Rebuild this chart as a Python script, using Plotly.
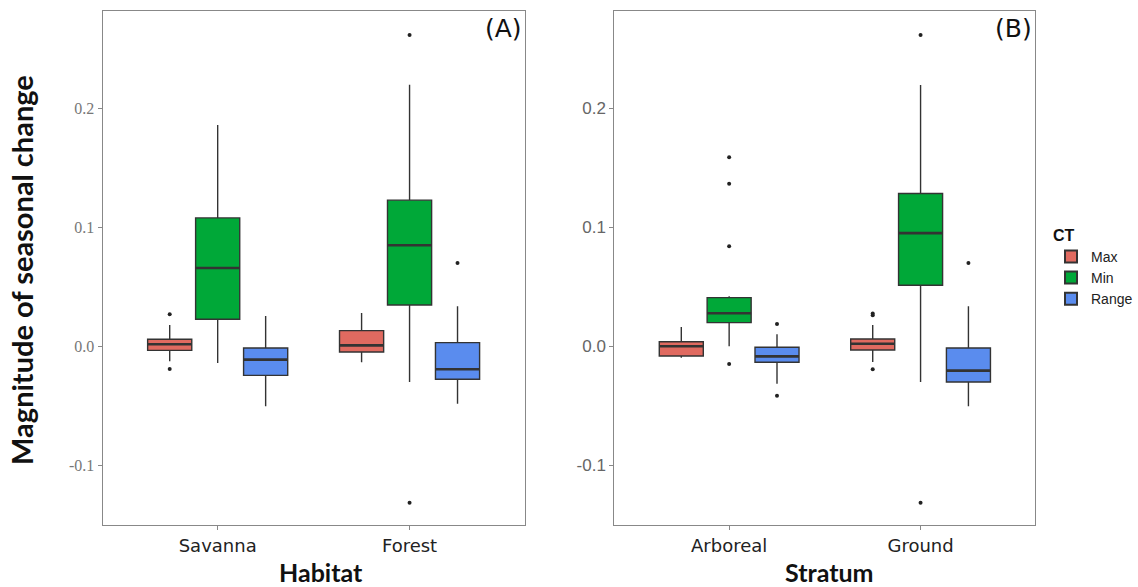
import plotly.graph_objects as go

# ---------------- data ----------------
groups = ["Max", "Min", "Range"]
habitat_cats = ["Savanna", "Forest"]
stratum_cats = ["Arboreal", "Ground"]

# Panel A (Habitat) stats per group: [Savanna, Forest]
A_q1 = {"Max": [-0.0034, -0.0048], "Min": [0.0227, 0.0347], "Range": [-0.0244, -0.0277]}
A_med = {"Max": [0.0017, 0.0008], "Min": [0.0658, 0.0849], "Range": [-0.0112, -0.0193]}
A_q3 = {"Max": [0.0059, 0.0132], "Min": [0.1078, 0.1227], "Range": [-0.0014, 0.0031]}
A_lo = {"Max": [-0.0126, -0.0134], "Min": [-0.014, -0.030], "Range": [-0.0504, -0.0482]}
A_hi = {"Max": [0.018, 0.028], "Min": [0.1857, 0.2196], "Range": [0.0255, 0.0336]}
A_out = {"Max": [[0.027, -0.019], []], "Min": [[], [0.2613, -0.1314]], "Range": [[], [0.070]]}

# Panel B (Stratum) stats per group: [Arboreal, Ground]
B_q1 = {"Max": [-0.0081, -0.0031], "Min": [0.0199, 0.0513], "Range": [-0.0134, -0.030]}
B_med = {"Max": [0.0, 0.0022], "Min": [0.0277, 0.095], "Range": [-0.0084, -0.0204]}
B_q3 = {"Max": [0.0039, 0.0062], "Min": [0.0409, 0.1283], "Range": [-0.0008, -0.0014]}
B_lo = {"Max": [-0.0095, -0.0132], "Min": [0.0, -0.030], "Range": [-0.0314, -0.0504]}
B_hi = {"Max": [0.0162, 0.0179], "Min": [0.042, 0.2193], "Range": [0.0101, 0.0336]}
B_out = {"Max": [[], [0.0275, 0.026, -0.0193]], "Min": [[0.1588, 0.1364, 0.084, -0.0149], [0.2613, -0.1314]],
         "Range": [[0.0188, -0.0415], [0.070]]}

y_ticks = [-0.1, 0.0, 0.1, 0.2]
y_tick_text = ["-0.1", "0.0", "0.1", "0.2"]

# ---------------- style ----------------
colors = {"Max": "#E06A60", "Min": "#00A838", "Range": "#5A8CEE"}
offsets = {"Max": -0.25, "Min": 0.0, "Range": 0.25}
box_w = 0.23
edge = "#333333"

W, H = 1138, 587
A_dom = [103 / W, 527 / W]
B_dom = [617 / W, 1040 / W]
Y_dom = [1 - 525 / H, 1 - 11 / H]

fig = go.Figure()


def add_panel(q1, med, q3, lo, hi, out, xa, ya, showleg):
    for g in groups:
        xs = [i + 1 + offsets[g] for i in range(2)]
        fig.add_trace(go.Box(
            x=xs, q1=q1[g], median=med[g], q3=q3[g],
            lowerfence=lo[g], upperfence=hi[g],
            width=box_w, fillcolor=colors[g],
            line=dict(color=edge, width=1.4),
            whiskerwidth=0, name=g, legendgroup=g, showlegend=showleg,
            boxpoints=False, xaxis=xa, yaxis=ya, hoverinfo="skip"))
        # thicker median lines
        mx, my = [], []
        for i in range(2):
            mx += [xs[i] - box_w / 2, xs[i] + box_w / 2, None]
            my += [med[g][i], med[g][i], None]
        fig.add_trace(go.Scatter(x=mx, y=my, mode="lines",
                                 line=dict(color=edge, width=2.6),
                                 showlegend=False, xaxis=xa, yaxis=ya, hoverinfo="skip"))
        ox, oy = [], []
        for i in range(2):
            for v in out[g][i]:
                ox.append(xs[i])
                oy.append(v)
        if ox:
            fig.add_trace(go.Scatter(x=ox, y=oy, mode="markers",
                                     marker=dict(color="#222222", size=4),
                                     showlegend=False, xaxis=xa, yaxis=ya, hoverinfo="skip"))


add_panel(A_q1, A_med, A_q3, A_lo, A_hi, A_out, "x", "y", True)
add_panel(B_q1, B_med, B_q3, B_lo, B_hi, B_out, "x2", "y2", False)

yrange = [-0.150, 0.2815]
xcommon = dict(range=[0.4, 2.6], tickvals=[1, 2], showgrid=False, zeroline=False,
               showline=True, linecolor="#888888", linewidth=1, mirror=True,
               ticks="outside", ticklen=4, tickcolor="#888888",
               tickfont=dict(family="DejaVu Sans", size=18, color="#222222"))
ycommon = dict(range=yrange, tickvals=y_ticks, ticktext=y_tick_text, showgrid=False,
               zeroline=False, showline=True, linecolor="#888888", linewidth=1, mirror=True,
               ticks="outside", ticklen=4, tickcolor="#888888")

fig.update_layout(
    width=W, height=H,
    margin=dict(l=0, r=0, t=0, b=0),
    paper_bgcolor="white", plot_bgcolor="white",
    showlegend=True,
    xaxis=dict(domain=A_dom, ticktext=habitat_cats, anchor="y", **xcommon),
    yaxis=dict(domain=Y_dom, anchor="x",
               tickfont=dict(family="Liberation Serif", size=16, color="#777777"), **ycommon),
    xaxis2=dict(domain=B_dom, ticktext=stratum_cats, anchor="y2", **xcommon),
    yaxis2=dict(domain=Y_dom, anchor="x2",
                tickfont=dict(family="Liberation Sans", size=17, color="#666666"), **ycommon),
    legend=dict(x=1056 / W, y=1 - 220 / H, xanchor="left", yanchor="top",
                title=dict(text="<b>CT</b>", font=dict(family="Liberation Sans", size=16, color="#111111")),
                font=dict(family="Liberation Sans", size=14, color="#222222"),
                tracegroupgap=0, itemsizing="constant", itemwidth=30,
                bgcolor="rgba(0,0,0,0)"),
    annotations=[
        dict(text="Magnitude of seasonal change", x=21 / W, y=0.54, xref="paper", yref="paper",
             textangle=-90, showarrow=False, xanchor="center", yanchor="middle",
             font=dict(family="Lato", size=29, color="#111111", weight="bold")),
        dict(text="Habitat", x=322 / W, y=1 - 572 / H, xref="paper", yref="paper",
             showarrow=False, xanchor="center", yanchor="middle",
             font=dict(family="Lato", size=25, color="#111111", weight="bold")),
        dict(text="Stratum", x=833 / W, y=1 - 572 / H, xref="paper", yref="paper",
             showarrow=False, xanchor="center", yanchor="middle",
             font=dict(family="Lato", size=25, color="#111111", weight="bold")),
        dict(text="(A)", x=A_dom[1] - 1 / W, y=1 - 12 / H, xref="paper", yref="paper",
             showarrow=False, xanchor="right", yanchor="top",
             font=dict(family="DejaVu Sans", size=25, color="#111111")),
        dict(text="(B)", x=B_dom[1] - 1 / W, y=1 - 12 / H, xref="paper", yref="paper",
             showarrow=False, xanchor="right", yanchor="top",
             font=dict(family="DejaVu Sans", size=25, color="#111111")),
    ],
)

fig.write_html("out.html")
